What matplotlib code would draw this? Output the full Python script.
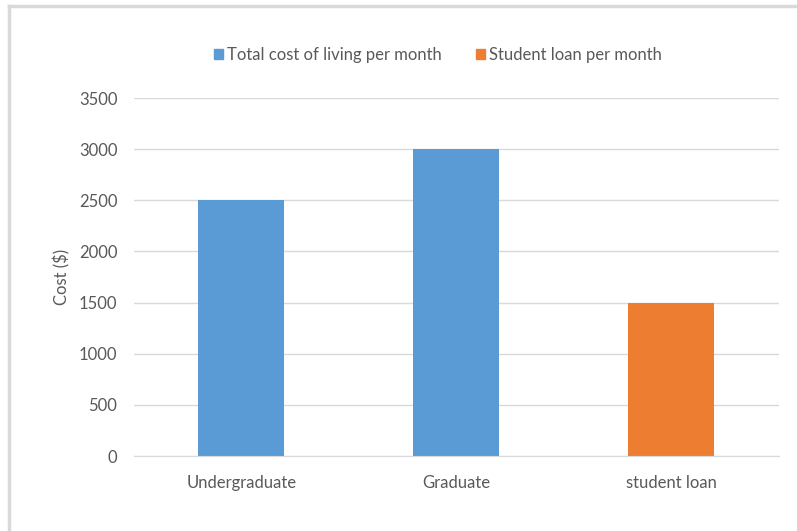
import matplotlib.pyplot as plt
from matplotlib.patches import Patch
from matplotlib.lines import Line2D

categories = ["Undergraduate", "Graduate", "student loan"]
costs = [2500, 3000, 1500]
series = ["Total cost of living per month", "Total cost of living per month", "Student loan per month"]
legend_labels = ["Total cost of living per month", "Student loan per month"]

blue = "#5B9BD5"
orange = "#ED7D31"
text_color = "#595959"
grid_color = "#D9D9D9"
colors = [blue if s == legend_labels[0] else orange for s in series]

plt.rcParams['font.family'] = ['Lato', 'DejaVu Sans']
fs = 12

fig = plt.figure(figsize=(7.97, 5.31), dpi=100)
ax = fig.add_axes([0.1681, 0.1412, 0.8093, 0.6742])

x = range(len(categories))
ax.bar(x, costs, width=0.4, color=colors, zorder=3)

ax.set_xlim(-0.5, len(categories) - 0.5)
ax.set_ylim(0, 3500)
ax.set_yticks(range(0, 3501, 500))
ax.set_xticks(list(x))
ax.set_xticklabels(categories)
ax.grid(axis="y", color=grid_color, linewidth=1, zorder=0)
for side in ["top", "right", "left"]:
    ax.spines[side].set_visible(False)
ax.spines["bottom"].set_color(grid_color)
ax.spines["bottom"].set_zorder(4)
ax.tick_params(axis="both", length=0, colors=text_color, labelsize=fs)
ax.tick_params(axis="y", pad=12)
ax.tick_params(axis="x", pad=14)
ax.set_ylabel("Cost ($)", color=text_color, fontsize=fs, labelpad=6)

handles = [Patch(color=blue), Patch(color=orange)]
fig.legend(handles, legend_labels, loc="center", bbox_to_anchor=(0.5495, 0.896),
           ncol=2, frameon=False, fontsize=fs, labelcolor=text_color,
           handlelength=0.55, handleheight=0.55, handletextpad=0.25, columnspacing=2.0)

# light border at top and left of the picture
fig.add_artist(Line2D([0.0113, 1.0], [0.9887, 0.9887], color="#D9D9D9", linewidth=2.5,
                      transform=fig.transFigure))
fig.add_artist(Line2D([0.0113, 0.0113], [0.0, 0.9887], color="#D9D9D9", linewidth=2.5,
                      transform=fig.transFigure))

fig.savefig("out.png", dpi=100)
